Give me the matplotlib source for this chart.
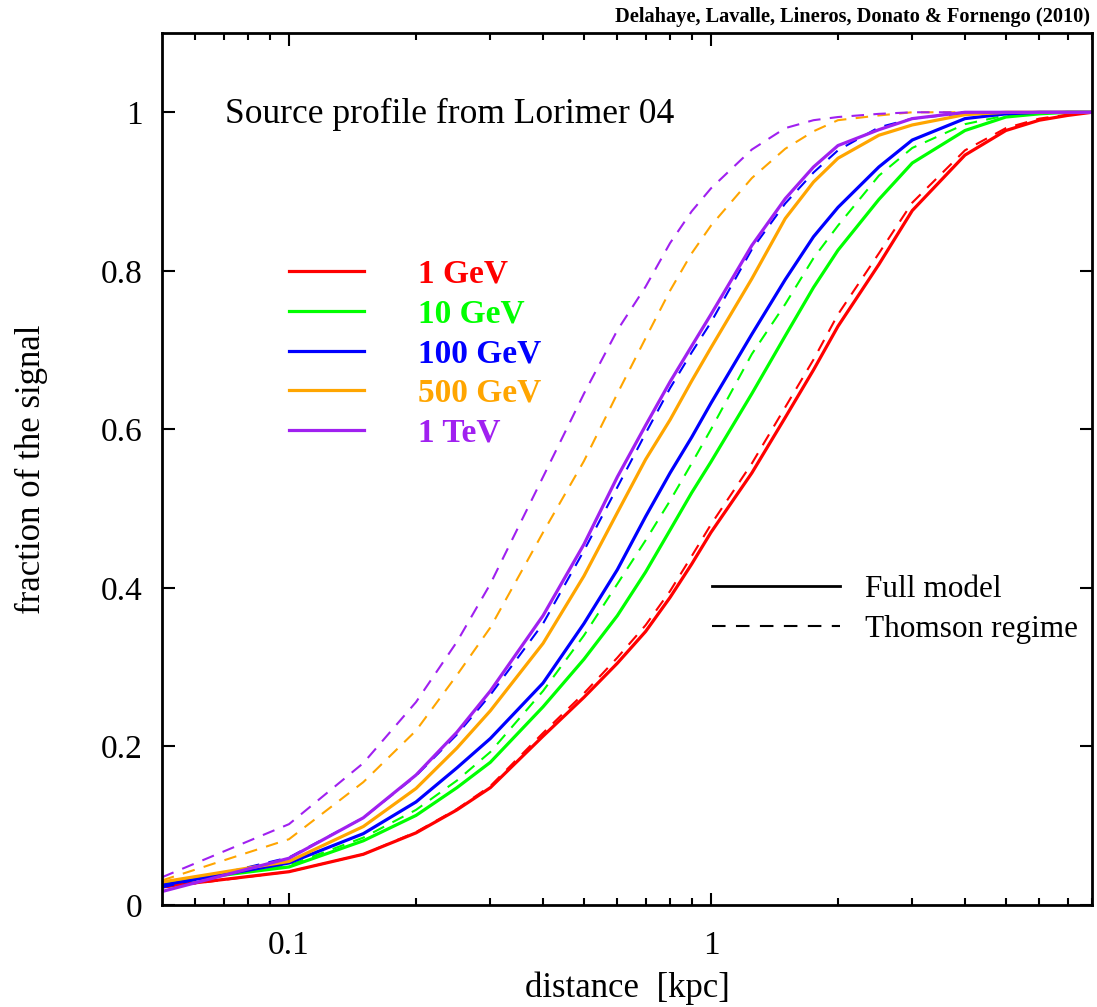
import matplotlib
matplotlib.use("Agg")
import matplotlib.pyplot as plt
from matplotlib.lines import Line2D
from matplotlib.ticker import FixedLocator, NullFormatter

plt.rcParams['font.family'] = ['Liberation Serif', 'DejaVu Serif']

# distance grid [kpc]
dist = [0.05, 0.1, 0.15, 0.2, 0.25, 0.3, 0.4, 0.5, 0.6, 0.7, 0.8, 0.9, 1.0,
        1.25, 1.5, 1.75, 2.0, 2.5, 3.0, 4.0, 5.0, 6.0, 7.0, 8.0]

# full model
full_1gev = [0.023, 0.042, 0.064, 0.091, 0.12, 0.148, 0.213, 0.262, 0.305, 0.345, 0.388, 0.43, 0.47,
             0.545, 0.615, 0.675, 0.73, 0.808, 0.876, 0.946, 0.977, 0.99, 0.996, 1.0]
full_10gev = [0.028, 0.048, 0.081, 0.113, 0.148, 0.18, 0.25, 0.31, 0.365, 0.42, 0.473, 0.52, 0.559,
              0.645, 0.718, 0.779, 0.826, 0.89, 0.936, 0.977, 0.994, 0.998, 1.0, 1.0]
full_100gev = [0.025, 0.053, 0.09, 0.13, 0.173, 0.21, 0.28, 0.355, 0.423, 0.49, 0.545, 0.59, 0.633,
               0.72, 0.789, 0.843, 0.88, 0.931, 0.965, 0.992, 0.998, 1.0, 1.0, 1.0]
full_500gev = [0.029, 0.055, 0.099, 0.147, 0.198, 0.245, 0.33, 0.415, 0.495, 0.562, 0.612, 0.661, 0.703,
               0.79, 0.866, 0.912, 0.942, 0.971, 0.984, 0.997, 1.0, 1.0, 1.0, 1.0]
full_1tev = [0.017, 0.059, 0.11, 0.164, 0.218, 0.27, 0.365, 0.455, 0.54, 0.605, 0.66, 0.705, 0.745,
             0.832, 0.891, 0.931, 0.958, 0.978, 0.992, 1.0, 1.0, 1.0, 1.0, 1.0]

# Thomson regime
thom_1gev = [0.022, 0.042, 0.064, 0.092, 0.121, 0.15, 0.217, 0.267, 0.312, 0.353, 0.396, 0.44, 0.48,
             0.557, 0.628, 0.688, 0.745, 0.822, 0.886, 0.952, 0.98, 0.992, 0.997, 1.0]
thom_10gev = [0.026, 0.05, 0.085, 0.12, 0.157, 0.193, 0.27, 0.34, 0.405, 0.46, 0.51, 0.557, 0.6,
              0.695, 0.758, 0.816, 0.857, 0.92, 0.955, 0.985, 0.996, 0.999, 1.0, 1.0]
thom_100gev = [0.022, 0.06, 0.11, 0.163, 0.215, 0.265, 0.355, 0.447, 0.527, 0.595, 0.652, 0.697, 0.735,
               0.827, 0.885, 0.924, 0.952, 0.981, 0.992, 0.999, 1.0, 1.0, 1.0, 1.0]
thom_500gev = [0.031, 0.083, 0.155, 0.22, 0.29, 0.35, 0.47, 0.56, 0.645, 0.715, 0.775, 0.822, 0.857,
               0.917, 0.954, 0.976, 0.99, 0.996, 1.0, 1.0, 1.0, 1.0, 1.0, 1.0]
thom_1tev = [0.035, 0.102, 0.179, 0.256, 0.332, 0.405, 0.54, 0.645, 0.725, 0.78, 0.835, 0.875, 0.904,
             0.953, 0.98, 0.99, 0.994, 0.998, 1.0, 1.0, 1.0, 1.0, 1.0, 1.0]

labels = ["1 GeV", "10 GeV", "100 GeV", "500 GeV", "1 TeV"]
colors = ["#ff0000", "#00ff00", "#0000ff", "#ffa500", "#a020f0"]
full = [full_1gev, full_10gev, full_100gev, full_500gev, full_1tev]
thom = [thom_1gev, thom_10gev, thom_100gev, thom_500gev, thom_1tev]

fig = plt.figure(figsize=(10.97, 10.07), dpi=100)
ax = fig.add_axes([162/1097, 1-905/1007, (1092-162)/1097, (905-33)/1007])

handles = []
for f, t, c, lab in zip(full, thom, colors, labels):
    ax.plot(dist, t, color=c, lw=1.5, dashes=(6, 4.5))
    h, = ax.plot(dist, f, color=c, lw=2.3, label=lab)
    handles.append(h)

ax.set_xscale('log')
ax.set_xlim(0.05, 8)
ax.set_ylim(0, 1.1)

ax.xaxis.set_major_locator(FixedLocator([0.1, 1]))
ax.set_xticklabels(["0.1", "1"])
ax.xaxis.set_minor_locator(FixedLocator([0.06, 0.07, 0.08, 0.09, 0.2, 0.3, 0.4, 0.5, 0.6, 0.7, 0.8, 0.9,
                                         2, 3, 4, 5, 6, 7, 8]))
ax.xaxis.set_minor_formatter(NullFormatter())
ax.set_yticks([0, 0.2, 0.4, 0.6, 0.8, 1.0])
ax.set_yticklabels(["0", "0.2", "0.4", "0.6", "0.8", "1"])

ax.tick_params(which='both', direction='in', top=True, right=True, width=1.5, labelsize=24)
ax.tick_params(which='major', length=9)
ax.tick_params(which='minor', length=5)
ax.tick_params(axis='y', pad=14)
ax.tick_params(axis='x', pad=18)
for s in ax.spines.values():
    s.set_linewidth(2)

ax.set_xlabel("distance  [kpc]", fontsize=25, labelpad=8)
ax.set_ylabel("fraction of the signal", fontsize=25, labelpad=38)

ax.text(0.068, 0.907, "Source profile from Lorimer 04", transform=ax.transAxes, fontsize=25.5,
        va='center', ha='left')
fig.text(0.994, 0.983, "Delahaye, Lavalle, Lineros, Donato & Fornengo (2010)", fontsize=14.7,
         fontweight='bold', ha='right', va='center')

leg1 = ax.legend(handles=handles, loc='upper left', bbox_to_anchor=(0.137, 0.741), frameon=False,
                 prop={'weight': 'bold', 'size': 24}, labelcolor='linecolor',
                 handlelength=2.25, handletextpad=1.6, labelspacing=0.26, borderpad=0, borderaxespad=0)
ax.add_artist(leg1)

style_handles = [Line2D([], [], color='black', lw=2),
                 Line2D([], [], color='black', lw=1.5, dashes=(6.5, 5))]
ax.legend(handles=style_handles, labels=["Full model", "Thomson regime"], loc='upper left',
          bbox_to_anchor=(0.591, 0.378), frameon=False, fontsize=22.5,
          handlelength=4.1, handletextpad=0.8, labelspacing=0.35, borderpad=0, borderaxespad=0)

fig.savefig("out.png", dpi=100)
